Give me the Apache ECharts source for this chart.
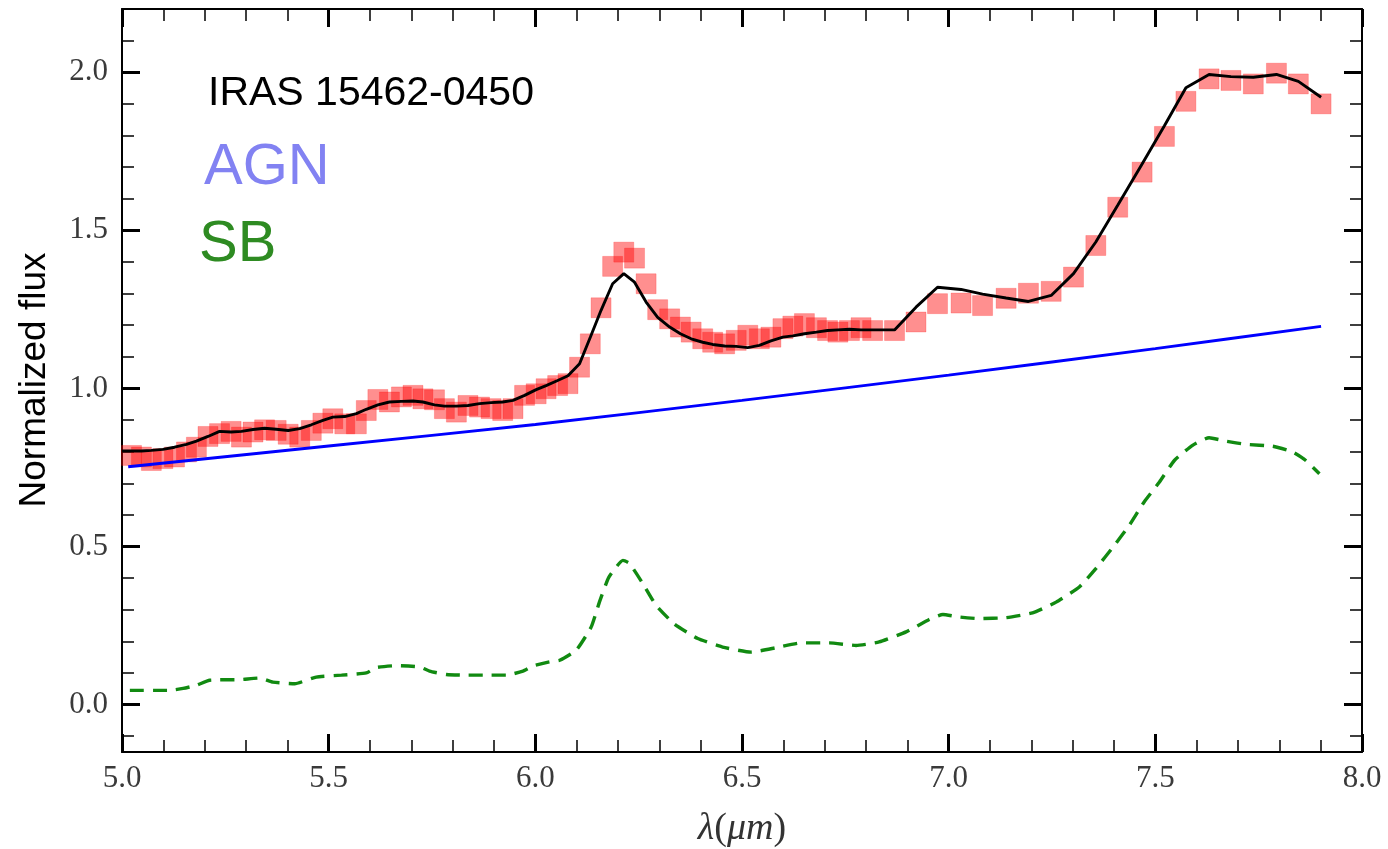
<!DOCTYPE html>
<html>
<head>
<meta charset="utf-8">
<script src="https://cdn.jsdelivr.net/npm/echarts@6/dist/echarts.min.js"></script>
<style>
  html, body { margin: 0; padding: 0; background: #ffffff; }
  #chart { width: 1388px; height: 849px; }
</style>
</head>
<body>
<div id="chart"></div>
<script>
// Observed spectrum, IRAS 15462-0450 (wavelength in micron, normalized flux)
const lambdaObs = [
  5.023, 5.047, 5.071, 5.099, 5.127, 5.156, 5.180, 5.208, 5.236, 5.264,
  5.289, 5.317, 5.345, 5.373, 5.402, 5.430, 5.458, 5.486, 5.510, 5.539,
  5.567, 5.591, 5.619, 5.647, 5.676, 5.704, 5.728, 5.756, 5.780, 5.809,
  5.837, 5.865, 5.893, 5.921, 5.946, 5.974, 6.002, 6.026, 6.054, 6.079,
  6.107, 6.133, 6.159, 6.187, 6.214, 6.240, 6.268, 6.296, 6.325, 6.351,
  6.377, 6.405, 6.429, 6.458, 6.486, 6.514, 6.542, 6.570, 6.599, 6.623,
  6.651, 6.680, 6.707, 6.732, 6.760, 6.788, 6.816, 6.869, 6.921, 6.973,
  7.030, 7.082, 7.139, 7.193, 7.248, 7.302, 7.356, 7.409, 7.468, 7.522,
  7.574, 7.630, 7.683, 7.737, 7.793, 7.846, 7.901
];
const fluxObs = [
  0.788, 0.783, 0.772, 0.778, 0.783, 0.799, 0.814, 0.848, 0.857, 0.864,
  0.846, 0.862, 0.869, 0.867, 0.855, 0.846, 0.867, 0.890, 0.904, 0.888,
  0.888, 0.930, 0.965, 0.957, 0.973, 0.978, 0.967, 0.964, 0.936, 0.925,
  0.946, 0.941, 0.936, 0.930, 0.936, 0.978, 0.983, 0.999, 1.009, 1.015,
  1.067, 1.141, 1.255, 1.386, 1.431, 1.412, 1.331, 1.249, 1.220, 1.194,
  1.178, 1.157, 1.146, 1.141, 1.152, 1.168, 1.157, 1.162, 1.189, 1.197,
  1.205, 1.192, 1.183, 1.178, 1.183, 1.192, 1.183, 1.183, 1.210, 1.268,
  1.270, 1.262, 1.285, 1.301, 1.307, 1.352, 1.452, 1.573, 1.684, 1.797,
  1.908, 1.979, 1.974, 1.963, 1.997, 1.963, 1.900
];

// Total fitted model (AGN + SB)
const lambdaModel = [
  5.000, 5.023, 5.047, 5.071, 5.099, 5.127, 5.156, 5.180, 5.208, 5.236,
  5.264, 5.289, 5.317, 5.345, 5.373, 5.402, 5.430, 5.458, 5.486, 5.510,
  5.539, 5.567, 5.591, 5.619, 5.647, 5.676, 5.704, 5.728, 5.756, 5.780,
  5.809, 5.837, 5.865, 5.893, 5.921, 5.946, 5.974, 6.002, 6.026, 6.054,
  6.079, 6.107, 6.133, 6.159, 6.187, 6.214, 6.240, 6.268, 6.296, 6.325,
  6.351, 6.377, 6.405, 6.429, 6.458, 6.486, 6.514, 6.542, 6.570, 6.599,
  6.623, 6.651, 6.680, 6.707, 6.732, 6.760, 6.788, 6.816, 6.869, 6.921,
  6.973, 7.030, 7.082, 7.139, 7.193, 7.248, 7.302, 7.356, 7.409, 7.468,
  7.522, 7.574, 7.630, 7.683, 7.737, 7.793, 7.846, 7.901
];
const fluxModel = [
  0.802, 0.802, 0.802, 0.804, 0.807, 0.814, 0.823, 0.833, 0.848, 0.864,
  0.862, 0.864, 0.870, 0.874, 0.871, 0.867, 0.873, 0.885, 0.899, 0.909,
  0.911, 0.920, 0.934, 0.948, 0.957, 0.959, 0.960, 0.957, 0.948, 0.944,
  0.944, 0.946, 0.952, 0.955, 0.957, 0.962, 0.978, 0.996, 1.009, 1.025,
  1.040, 1.078, 1.162, 1.247, 1.331, 1.363, 1.336, 1.273, 1.225, 1.194,
  1.173, 1.157, 1.146, 1.139, 1.134, 1.133, 1.129, 1.136, 1.150, 1.162,
  1.166, 1.173, 1.178, 1.183, 1.185, 1.187, 1.185, 1.185, 1.185, 1.257,
  1.320, 1.313, 1.298, 1.286, 1.275, 1.294, 1.363, 1.463, 1.579, 1.710,
  1.831, 1.951, 1.993, 1.986, 1.984, 1.993, 1.971, 1.921
];

// AGN continuum component
const lambdaAgn = [5.015, 5.500, 6.000, 6.500, 7.000, 7.500, 7.901];
const fluxAgn   = [0.752, 0.818, 0.886, 0.962, 1.042, 1.126, 1.196];

// Starburst (PAH) component
const lambdaSb = [
  5.019, 5.115, 5.148, 5.180, 5.212, 5.285, 5.333, 5.365, 5.418, 5.470,
  5.531, 5.591, 5.615, 5.664, 5.720, 5.744, 5.785, 5.833, 5.881, 5.930,
  5.970, 5.994, 6.034, 6.059, 6.099, 6.135, 6.155, 6.178, 6.212, 6.228,
  6.260, 6.292, 6.337, 6.393, 6.453, 6.522, 6.583, 6.643, 6.711, 6.776,
  6.832, 6.897, 6.953, 6.986, 7.026, 7.074, 7.139, 7.203, 7.260, 7.316,
  7.356, 7.401, 7.437, 7.473, 7.510, 7.546, 7.590, 7.630, 7.671, 7.719,
  7.784, 7.832, 7.864, 7.897
];
const fluxSb = [
  0.045, 0.045, 0.051, 0.061, 0.077, 0.079, 0.084, 0.071, 0.066, 0.087,
  0.093, 0.100, 0.117, 0.123, 0.119, 0.106, 0.095, 0.093, 0.093, 0.093,
  0.106, 0.122, 0.135, 0.140, 0.172, 0.245, 0.324, 0.403, 0.456, 0.446,
  0.383, 0.314, 0.254, 0.209, 0.182, 0.166, 0.180, 0.195, 0.195, 0.187,
  0.198, 0.230, 0.269, 0.285, 0.277, 0.272, 0.275, 0.290, 0.324, 0.372,
  0.430, 0.504, 0.567, 0.641, 0.704, 0.772, 0.820, 0.844, 0.833, 0.823,
  0.817, 0.799, 0.772, 0.730
];

// Tick positions
const xMajorTicks = [5.0, 5.5, 6.0, 6.5, 7.0, 7.5, 8.0];
const xMinorTicks = [5.1, 5.2, 5.3, 5.4, 5.6, 5.7, 5.8, 5.9, 6.1, 6.2, 6.3, 6.4,
                     6.6, 6.7, 6.8, 6.9, 7.1, 7.2, 7.3, 7.4, 7.6, 7.7, 7.8, 7.9];
const yMajorTicks = [0.0, 0.5, 1.0, 1.5, 2.0];
const yMinorTicks = [-0.1, 0.1, 0.2, 0.3, 0.4, 0.6, 0.7, 0.8, 0.9, 1.1, 1.2, 1.3,
                     1.4, 1.6, 1.7, 1.8, 1.9, 2.1];

const X_MIN = 5.0, X_MAX = 8.0, Y_MIN = -0.15, Y_MAX = 2.2;

const zip = (xs, ys) => xs.map((x, i) => [x, ys[i]]);

const labelFont = {
  fontFamily: 'Liberation Serif', fontSize: 31, color: '#3a3a3a'
};

function makeAxis(dim, position, ticks, major, withLabels) {
  const isX = dim === 'x';
  return {
    type: 'value',
    position: position,
    min: isX ? X_MIN : Y_MIN,
    max: isX ? X_MAX : Y_MAX,
    splitLine: { show: false },
    axisLine: {
      show: major,
      onZero: false,
      lineStyle: { color: '#000', width: 2 }
    },
    axisTick: {
      show: true,
      inside: true,
      customValues: ticks,
      length: major ? 18 : 12,
      lineStyle: { color: '#000', width: major ? 3 : 1.5 }
    },
    axisLabel: withLabels ? Object.assign({
      show: true,
      customValues: ticks,
      margin: isX ? 11 : 14,
      formatter: v => Number(v).toFixed(1)
    }, labelFont) : { show: false }
  };
}

const chart = echarts.init(document.getElementById('chart'), null, { renderer: 'canvas' });

chart.setOption({
  animation: false,
  backgroundColor: '#ffffff',
  grid: { left: 122, right: 26, top: 9, bottom: 97, containLabel: false },
  xAxis: [
    makeAxis('x', 'bottom', xMajorTicks, true, true),
    makeAxis('x', 'bottom', xMinorTicks, false, false),
    makeAxis('x', 'top', xMajorTicks, true, false),
    makeAxis('x', 'top', xMinorTicks, false, false)
  ],
  yAxis: [
    makeAxis('y', 'left', yMajorTicks, true, true),
    makeAxis('y', 'left', yMinorTicks, false, false),
    makeAxis('y', 'right', yMajorTicks, true, false),
    makeAxis('y', 'right', yMinorTicks, false, false)
  ],
  series: [
    {
      name: 'data',
      type: 'scatter',
      symbol: 'rect',
      symbolSize: 20,
      data: zip(lambdaObs, fluxObs),
      itemStyle: {
        color: 'rgba(255, 0, 0, 0.55)',
        borderColor: 'rgba(255, 0, 0, 0.25)',
        borderWidth: 1
      },
      emphasis: { disabled: true }
    },
    {
      name: 'model',
      type: 'line',
      data: zip(lambdaModel, fluxModel),
      showSymbol: false,
      lineStyle: { color: '#000000', width: 2.9 },
      emphasis: { disabled: true }
    },
    {
      name: 'AGN',
      type: 'line',
      data: zip(lambdaAgn, fluxAgn),
      showSymbol: false,
      smooth: 0.3,
      lineStyle: { color: '#0000ff', width: 2.9 },
      emphasis: { disabled: true }
    },
    {
      name: 'SB',
      type: 'line',
      data: zip(lambdaSb, fluxSb),
      showSymbol: false,
      smooth: 0.15,
      lineStyle: { color: '#118a11', width: 3.4, type: [14, 9] },
      emphasis: { disabled: true }
    }
  ],
  graphic: [
    {
      type: 'text', x: 208, y: 94,
      style: {
        text: 'IRAS 15462-0450', fill: '#000000',
        font: '41px "Liberation Sans", Arial, sans-serif',
        textAlign: 'left', textVerticalAlign: 'middle'
      }
    },
    {
      type: 'text', x: 204, y: 168,
      style: {
        text: 'AGN', fill: '#8282f2',
        font: '58px "Liberation Sans", Arial, sans-serif',
        textAlign: 'left', textVerticalAlign: 'middle'
      }
    },
    {
      type: 'text', x: 199, y: 245,
      style: {
        text: 'SB', fill: '#2e8b22',
        font: '58px "Liberation Sans", Arial, sans-serif',
        textAlign: 'left', textVerticalAlign: 'middle'
      }
    },
    {
      type: 'text', x: 35, y: 380, rotation: Math.PI / 2,
      style: {
        text: 'Normalized flux', fill: '#000000',
        font: '37px "Liberation Sans", Arial, sans-serif',
        textAlign: 'center', textVerticalAlign: 'middle'
      }
    },
    {
      type: 'text', x: 742, y: 829,
      style: {
        text: '{i|λ}{n|(}{i|μm}{n|)}',
        textAlign: 'center', textVerticalAlign: 'middle',
        rich: {
          i: { fontFamily: 'Liberation Serif', fontStyle: 'italic', fontSize: 38, fill: '#333333' },
          n: { fontFamily: 'Liberation Serif', fontSize: 38, fill: '#333333' }
        }
      }
    }
  ]
});
</script>
</body>
</html>
